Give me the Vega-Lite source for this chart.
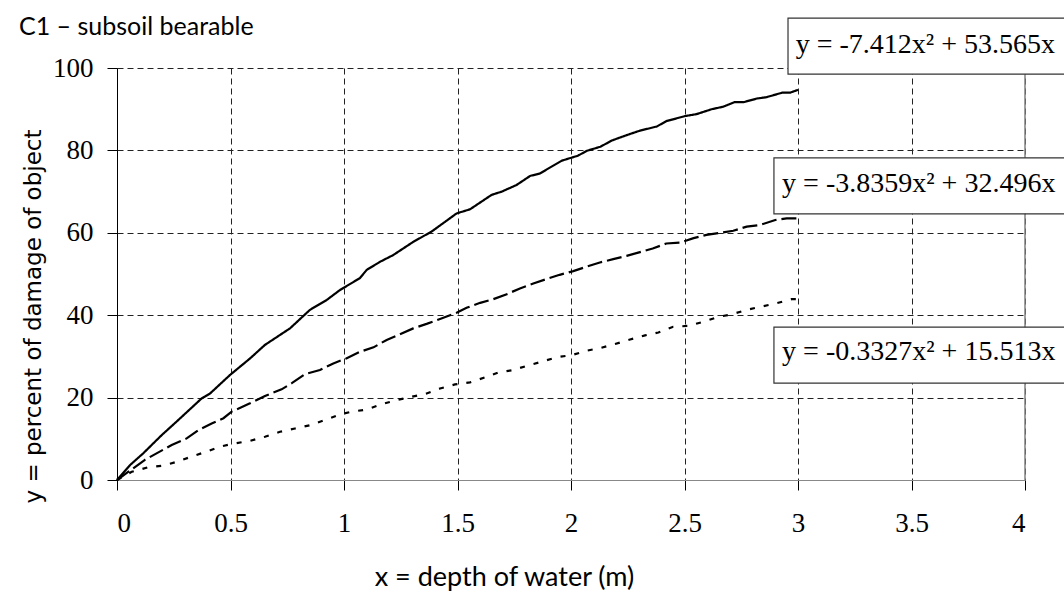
{
  "$schema": "https://vega.github.io/schema/vega-lite/v6.json",
  "width": 908,
  "height": 412,
  "autosize": {"type": "none"},
  "padding": {"left": 117, "top": 68, "right": 39, "bottom": 111},
  "background": "white",
  "title": {
    "text": "C1 – subsoil bearable",
    "anchor": "start",
    "frame": "group",
    "dx": -98,
    "offset": -42,
    "baseline": "alphabetic",
    "font": "Lato",
    "fontSize": 25,
    "fontWeight": "normal",
    "color": "#000"
  },
  "config": {
    "view": {"stroke": null},
    "axis": {
      "labelFont": "Liberation Serif",
      "labelFontSize": 27,
      "labelColor": "#000",
      "tickColor": "#000",
      "tickSize": 10,
      "gridColor": "#222",
      "gridDash": [6, 4],
      "gridWidth": 1,
      "gridOpacity": 1
    }
  },
  "datasets": {
    "curves": [
      {"series": "A", "x": 0, "y": 0},
      {"series": "A", "x": 0.057, "y": 3.6},
      {"series": "A", "x": 0.116, "y": 6.5},
      {"series": "A", "x": 0.197, "y": 10.9},
      {"series": "A", "x": 0.263, "y": 14.2},
      {"series": "A", "x": 0.373, "y": 19.8},
      {"series": "A", "x": 0.41, "y": 21},
      {"series": "A", "x": 0.498, "y": 25.5},
      {"series": "A", "x": 0.586, "y": 29.5},
      {"series": "A", "x": 0.652, "y": 32.8},
      {"series": "A", "x": 0.762, "y": 36.8},
      {"series": "A", "x": 0.85, "y": 41.3},
      {"series": "A", "x": 0.924, "y": 43.7},
      {"series": "A", "x": 0.982, "y": 46.1},
      {"series": "A", "x": 1.07, "y": 49},
      {"series": "A", "x": 1.1, "y": 51},
      {"series": "A", "x": 1.16, "y": 53},
      {"series": "A", "x": 1.217, "y": 54.6},
      {"series": "A", "x": 1.305, "y": 57.8},
      {"series": "A", "x": 1.386, "y": 60.3},
      {"series": "A", "x": 1.496, "y": 64.7},
      {"series": "A", "x": 1.555, "y": 65.7},
      {"series": "A", "x": 1.65, "y": 69.2},
      {"series": "A", "x": 1.695, "y": 70},
      {"series": "A", "x": 1.76, "y": 71.6},
      {"series": "A", "x": 1.82, "y": 73.8},
      {"series": "A", "x": 1.863, "y": 74.4},
      {"series": "A", "x": 1.959, "y": 77.5},
      {"series": "A", "x": 2.03, "y": 78.7},
      {"series": "A", "x": 2.07, "y": 79.9},
      {"series": "A", "x": 2.13, "y": 80.9},
      {"series": "A", "x": 2.18, "y": 82.4},
      {"series": "A", "x": 2.245, "y": 83.7},
      {"series": "A", "x": 2.304, "y": 84.8},
      {"series": "A", "x": 2.378, "y": 85.8},
      {"series": "A", "x": 2.42, "y": 87.1},
      {"series": "A", "x": 2.5, "y": 88.3},
      {"series": "A", "x": 2.553, "y": 88.8},
      {"series": "A", "x": 2.62, "y": 90},
      {"series": "A", "x": 2.67, "y": 90.6},
      {"series": "A", "x": 2.72, "y": 91.7},
      {"series": "A", "x": 2.76, "y": 91.7},
      {"series": "A", "x": 2.82, "y": 92.6},
      {"series": "A", "x": 2.86, "y": 92.9},
      {"series": "A", "x": 2.93, "y": 94},
      {"series": "A", "x": 2.965, "y": 94},
      {"series": "A", "x": 3.0, "y": 94.7},
      {"series": "B", "x": 0, "y": 0},
      {"series": "B", "x": 0.123, "y": 4.9},
      {"series": "B", "x": 0.241, "y": 8.5},
      {"series": "B", "x": 0.307, "y": 10.1},
      {"series": "B", "x": 0.358, "y": 12.1},
      {"series": "B", "x": 0.417, "y": 13.7},
      {"series": "B", "x": 0.469, "y": 15},
      {"series": "B", "x": 0.505, "y": 16.6},
      {"series": "B", "x": 0.586, "y": 18.6},
      {"series": "B", "x": 0.652, "y": 20.4},
      {"series": "B", "x": 0.725, "y": 22},
      {"series": "B", "x": 0.77, "y": 23.5},
      {"series": "B", "x": 0.828, "y": 25.7},
      {"series": "B", "x": 0.894, "y": 26.7},
      {"series": "B", "x": 0.953, "y": 28.3},
      {"series": "B", "x": 1.01, "y": 29.5},
      {"series": "B", "x": 1.07, "y": 31.1},
      {"series": "B", "x": 1.13, "y": 32.2},
      {"series": "B", "x": 1.188, "y": 34},
      {"series": "B", "x": 1.24, "y": 35.2},
      {"series": "B", "x": 1.305, "y": 36.8},
      {"series": "B", "x": 1.364, "y": 37.9},
      {"series": "B", "x": 1.423, "y": 39.1},
      {"series": "B", "x": 1.496, "y": 40.6},
      {"series": "B", "x": 1.54, "y": 41.8},
      {"series": "B", "x": 1.6, "y": 43},
      {"series": "B", "x": 1.658, "y": 43.9},
      {"series": "B", "x": 1.717, "y": 45.1},
      {"series": "B", "x": 1.775, "y": 46.5},
      {"series": "B", "x": 1.834, "y": 47.7},
      {"series": "B", "x": 1.893, "y": 48.8},
      {"series": "B", "x": 1.95, "y": 49.8},
      {"series": "B", "x": 2.01, "y": 50.7},
      {"series": "B", "x": 2.07, "y": 51.8},
      {"series": "B", "x": 2.127, "y": 52.8},
      {"series": "B", "x": 2.186, "y": 53.6},
      {"series": "B", "x": 2.245, "y": 54.4},
      {"series": "B", "x": 2.304, "y": 55.3},
      {"series": "B", "x": 2.36, "y": 56.2},
      {"series": "B", "x": 2.42, "y": 57.4},
      {"series": "B", "x": 2.48, "y": 57.6},
      {"series": "B", "x": 2.54, "y": 58.7},
      {"series": "B", "x": 2.597, "y": 59.5},
      {"series": "B", "x": 2.656, "y": 60},
      {"series": "B", "x": 2.715, "y": 60.5},
      {"series": "B", "x": 2.774, "y": 61.5},
      {"series": "B", "x": 2.833, "y": 61.9},
      {"series": "B", "x": 2.9, "y": 63.1},
      {"series": "B", "x": 2.95, "y": 63.5},
      {"series": "B", "x": 3.0, "y": 63.5},
      {"series": "C", "x": 0, "y": 0},
      {"series": "C", "x": 0.065, "y": 2},
      {"series": "C", "x": 0.138, "y": 3.1},
      {"series": "C", "x": 0.204, "y": 3.5},
      {"series": "C", "x": 0.263, "y": 4.4},
      {"series": "C", "x": 0.329, "y": 5.7},
      {"series": "C", "x": 0.395, "y": 6.9},
      {"series": "C", "x": 0.454, "y": 8.1},
      {"series": "C", "x": 0.52, "y": 8.9},
      {"series": "C", "x": 0.586, "y": 9.5},
      {"series": "C", "x": 0.652, "y": 10.5},
      {"series": "C", "x": 0.718, "y": 11.7},
      {"series": "C", "x": 0.784, "y": 12.5},
      {"series": "C", "x": 0.85, "y": 13.3},
      {"series": "C", "x": 0.924, "y": 14.7},
      {"series": "C", "x": 0.982, "y": 15.9},
      {"series": "C", "x": 1.034, "y": 16.6},
      {"series": "C", "x": 1.1, "y": 17.1},
      {"series": "C", "x": 1.166, "y": 18.4},
      {"series": "C", "x": 1.232, "y": 19.4},
      {"series": "C", "x": 1.298, "y": 20.2},
      {"series": "C", "x": 1.364, "y": 21},
      {"series": "C", "x": 1.423, "y": 22.2},
      {"series": "C", "x": 1.489, "y": 23.2},
      {"series": "C", "x": 1.555, "y": 23.7},
      {"series": "C", "x": 1.621, "y": 24.9},
      {"series": "C", "x": 1.68, "y": 26.1},
      {"series": "C", "x": 1.746, "y": 26.7},
      {"series": "C", "x": 1.805, "y": 27.7},
      {"series": "C", "x": 1.87, "y": 28.7},
      {"series": "C", "x": 1.937, "y": 29.8},
      {"series": "C", "x": 2.003, "y": 30.3},
      {"series": "C", "x": 2.07, "y": 31.4},
      {"series": "C", "x": 2.127, "y": 32},
      {"series": "C", "x": 2.194, "y": 33},
      {"series": "C", "x": 2.26, "y": 34.1},
      {"series": "C", "x": 2.326, "y": 35.1},
      {"series": "C", "x": 2.385, "y": 35.8},
      {"series": "C", "x": 2.45, "y": 37.2},
      {"series": "C", "x": 2.517, "y": 37.4},
      {"series": "C", "x": 2.583, "y": 38.4},
      {"series": "C", "x": 2.65, "y": 39.6},
      {"series": "C", "x": 2.708, "y": 40.2},
      {"series": "C", "x": 2.774, "y": 41.3},
      {"series": "C", "x": 2.84, "y": 42.1},
      {"series": "C", "x": 2.906, "y": 42.9},
      {"series": "C", "x": 2.972, "y": 43.9},
      {"series": "C", "x": 3.0, "y": 43.9}
    ],
    "boxes": [
      {"label": "y = -7.412x² + 53.565x", "bx": 2.956, "bx2": 4.4, "by": 112.1, "by2": 98.5, "tx": 2.99, "ty": 105.6},
      {"label": "y = -3.8359x² + 32.496x", "bx": 2.894, "bx2": 4.4, "by": 78.2, "by2": 64.6, "tx": 2.93, "ty": 71.8},
      {"label": "y = -0.3327x² + 15.513x", "bx": 2.894, "bx2": 4.4, "by": 37.1, "by2": 23.5, "tx": 2.93, "ty": 31.0}
    ],
    "edge": [{"xe": 4}]
  },
  "layer": [
    {
      "data": {"name": "curves"},
      "mark": {"type": "line", "color": "#000", "strokeWidth": 2.2},
      "encoding": {
        "x": {
          "field": "x",
          "type": "quantitative",
          "scale": {"domain": [0, 4], "nice": false, "zero": false},
          "axis": {
            "values": [0, 0.5, 1, 1.5, 2, 2.5, 3, 3.5, 4],
            "labelExpr": "'' + datum.value",
            "domainColor": "#888",
            "domainWidth": 1,
            "labelPadding": 20,
            "title": "x = depth of water (m)",
            "titleFont": "Lato",
            "titleFontSize": 27,
            "titleFontWeight": "normal",
            "titleColor": "#000",
            "titleX": 387,
            "titleY": 105,
            "titleAlign": "center",
            "titleBaseline": "alphabetic",
            "grid": true
          }
        },
        "y": {
          "field": "y",
          "type": "quantitative",
          "scale": {"domain": [0, 100], "nice": false},
          "axis": {
            "values": [0, 20, 40, 60, 80, 100],
            "domainColor": "#000",
            "domainWidth": 1,
            "labelPadding": 14,
            "title": "y = percent of damage of object",
            "titleFont": "DejaVu Sans",
            "titleFontSize": 23,
            "titleFontWeight": "normal",
            "titleColor": "#000",
            "titleAngle": -90,
            "titleX": -84,
            "titleY": 248,
            "titleAlign": "center",
            "titleBaseline": "middle",
            "grid": true
          }
        },
        "strokeDash": {
          "field": "series",
          "type": "nominal",
          "scale": {"domain": ["A", "B", "C"], "range": [[1, 0], [15, 5], [5, 9]]},
          "legend": null
        },
        "strokeWidth": {
          "field": "series",
          "type": "nominal",
          "scale": {"domain": ["A", "B", "C"], "range": [2.2, 2.6, 2.6]},
          "legend": null
        }
      }
    },
    {
      "data": {"name": "edge"},
      "mark": {"type": "rule", "color": "#808080", "strokeWidth": 1.5},
      "encoding": {"x": {"field": "xe", "type": "quantitative"}}
    },
    {
      "data": {"name": "boxes"},
      "mark": {"type": "rect", "fill": "white", "stroke": "#333", "strokeWidth": 1.2, "clip": false},
      "encoding": {
        "x": {"field": "bx", "type": "quantitative"},
        "x2": {"field": "bx2"},
        "y": {"field": "by", "type": "quantitative"},
        "y2": {"field": "by2"}
      }
    },
    {
      "data": {"name": "boxes"},
      "mark": {"type": "text", "align": "left", "baseline": "middle", "font": "Liberation Serif", "fontSize": 28, "color": "#000"},
      "encoding": {
        "x": {"field": "tx", "type": "quantitative"},
        "y": {"field": "ty", "type": "quantitative"},
        "text": {"field": "label"}
      }
    }
  ]
}
